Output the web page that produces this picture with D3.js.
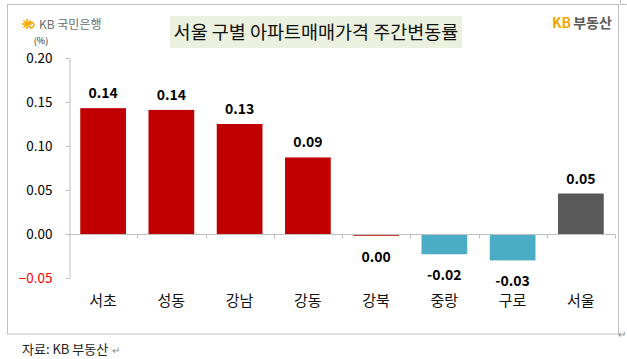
<!DOCTYPE html>
<html><head><meta charset="utf-8">
<script src="https://cdn.jsdelivr.net/npm/d3@7"></script>
<style>
html,body{margin:0;padding:0;background:#fff;}
svg{display:block;}
</style></head>
<body>
<svg id="c" width="627" height="359"></svg>
<script>
const categories = ['서초','성동','강남','강동','강북','중랑','구로','서울'];
const values = [0.143, 0.141, 0.125, 0.087, -0.002, -0.023, -0.030, 0.046];
const valueLabels = ['0.14','0.14','0.13','0.09','0.00','-0.02','-0.03','0.05'];
const kinds = ['up','up','up','up','up','down','down','total'];
const yTicks = [-0.05, 0, 0.05, 0.10, 0.15, 0.20];
const title = '서울 구별 아파트매매가격 주간변동률';
const source = '자료: KB 부동산';

const colorOf = {up:'#C00000', down:'#4BACC6', total:'#595959'};
const KR = "'Malgun Gothic','Noto Sans CJK KR','Noto Sans',sans-serif";

const svg = d3.select('#c');

// outer frame
svg.append('rect').attr('x',7.5).attr('y',4.5).attr('width',611).attr('height',329.5)
  .attr('fill','none').attr('stroke','#BFBFBF').attr('stroke-width',1);
svg.append('path').attr('d','M620.5,0 V4.5 H627').attr('fill','none').attr('stroke','#BFBFBF');

// title box
svg.append('rect').attr('x',170).attr('y',16).attr('width',292).attr('height',32).attr('fill','#EBF1DE');
svg.append('text').attr('x',316).attr('y',38.5).attr('text-anchor','middle')
  .attr('font-family',KR).attr('font-size',18.5).attr('fill','#111').text(title);

// KB 국민은행 logo
const logo = svg.append('g').attr('transform','translate(27,24)');
[0,45,90,135].forEach(a=>{
  logo.append('line').attr('x1',-5).attr('y1',0).attr('x2',5).attr('y2',0)
    .attr('stroke','#F5A800').attr('stroke-width',1.6).attr('transform',`rotate(${a})`);
});
logo.append('path').attr('d','M2,-1 Q6,-3 7,1 Q6,5 2,3').attr('fill','none').attr('stroke','#F5A800').attr('stroke-width',1.5);
svg.append('text').attr('x',39).attr('y',29).attr('font-family',KR).attr('font-size',12)
  .attr('fill','#6d6d6d').text('KB 국민은행');

// KB부동산
const kb = svg.append('text').attr('x',552).attr('y',28).attr('font-family',KR).attr('font-size',14).attr('font-weight','bold');
kb.append('tspan').attr('fill','#F5A800').text('KB');
kb.append('tspan').attr('fill','#5a5a5a').attr('dx',2).text('부동산');

// scales
const x = d3.scaleBand().domain(categories).range([69,615]).paddingInner(0.33).paddingOuter(0.165);
const y = d3.scaleLinear().domain([-0.05,0.20]).range([278,58]);

// y axis
const yAxis = d3.axisLeft(y).tickValues(yTicks).tickFormat(d3.format('.2f')).tickSize(4).tickSizeOuter(0);
const gy = svg.append('g').attr('transform','translate(69.5,0)').call(yAxis);
gy.select('.domain').attr('stroke','#BFBFBF');
gy.selectAll('.tick line').attr('stroke','#BFBFBF');
gy.selectAll('.tick text').attr('font-family',KR).attr('font-size',13.5).attr('x',-17)
  .attr('fill',d=>d<0?'#FF0000':'#000');
svg.append('text').attr('x',41).attr('y',44).attr('text-anchor','middle').attr('font-family',KR)
  .attr('font-size',9).attr('fill','#222').text('(%)');

// bars
svg.append('g').selectAll('rect').data(categories).join('rect')
  .attr('x',d=>x(d)).attr('width',x.bandwidth())
  .attr('y',(d,i)=>y(Math.max(0,values[i])))
  .attr('height',(d,i)=>Math.max(1.5,Math.abs(y(values[i])-y(0))))
  .attr('fill',(d,i)=>colorOf[kinds[i]]);

// x axis
const xAxisG = svg.append('g').attr('transform',`translate(0,${y(0)+0.5})`);
xAxisG.append('line').attr('x1',69).attr('x2',615).attr('stroke','#BFBFBF');
const boundaries = d3.range(1,categories.length+1).map(i=>69+i*(546/categories.length));
xAxisG.selectAll('.xt').data(boundaries).join('line').attr('class','xt')
  .attr('x1',d=>Math.round(d)+0.5).attr('x2',d=>Math.round(d)+0.5).attr('y1',0).attr('y2',4).attr('stroke','#BFBFBF');

// category labels
svg.append('g').selectAll('text').data(categories).join('text')
  .attr('x',d=>x(d)+x.bandwidth()/2).attr('y',305.5).attr('text-anchor','middle')
  .attr('font-family',KR).attr('font-size',15).attr('fill','#111').text(d=>d);

// value labels
svg.append('g').selectAll('text').data(categories).join('text')
  .attr('x',d=>x(d)+x.bandwidth()/2)
  .attr('y',(d,i)=>{
    const v=values[i];
    if (v>=0) return y(v)-10;
    if (Math.abs(y(v)-y(0))<4) return y(0)+28;
    return y(v)+26;
  })
  .attr('text-anchor','middle').attr('font-family',KR).attr('font-size',14).attr('font-weight','bold')
  .attr('fill','#000').text((d,i)=>valueLabels[i]);

// source
svg.append('text').attr('x',22).attr('y',354).attr('font-family',KR).attr('font-size',13)
  .attr('fill','#222').text(source);
svg.append('text').attr('x',112).attr('y',354).attr('font-family',KR).attr('font-size',10)
  .attr('fill','#888').text('↵');
svg.append('text').attr('x',618).attr('y',338).attr('font-family',KR).attr('font-size',10)
  .attr('fill','#888').text('↵');
</script>
</body></html>
